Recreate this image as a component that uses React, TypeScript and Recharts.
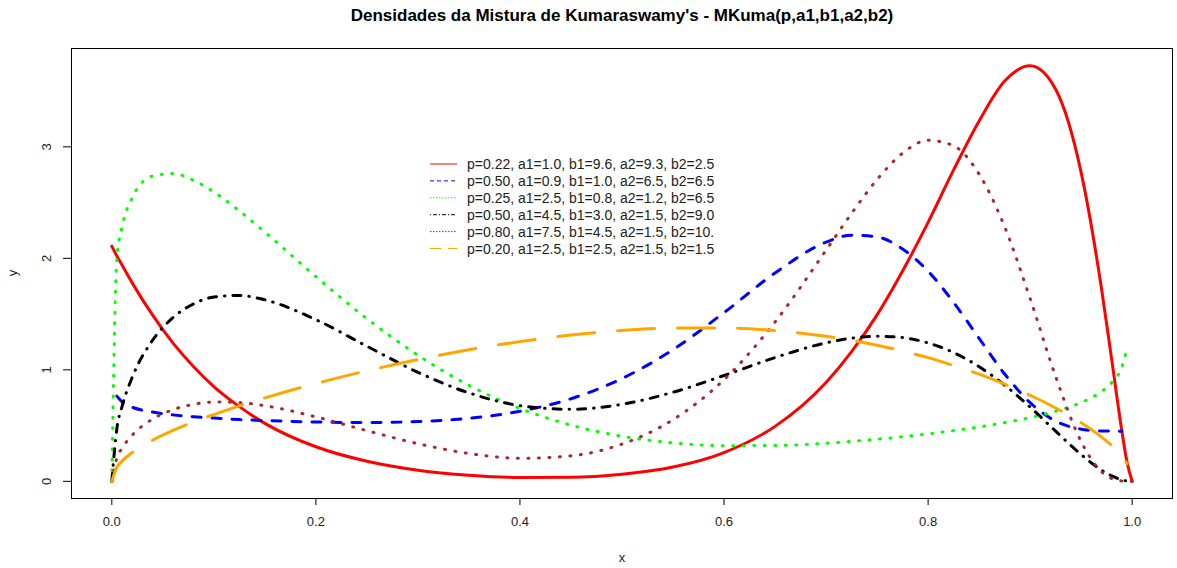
import { LineChart, Line, XAxis, YAxis, Legend } from 'recharts'

// x grid (finer near the ends where the curves bend fast)
const xs = [0, 0.005, 0.01, 0.02, 0.04, 0.06, 0.08, 0.1, 0.125, 0.15, 0.2, 0.25, 0.3, 0.35, 0.4, 0.45, 0.5, 0.55, 0.6, 0.65, 0.7, 0.725, 0.75, 0.775, 0.8, 0.825, 0.85, 0.875, 0.9, 0.925, 0.95, 0.97, 0.98, 0.99, 0.995, 1]

const red = [2.11, 2.02, 1.94, 1.78, 1.49, 1.24, 1.03, 0.85, 0.67, 0.52, 0.31, 0.18, 0.1, 0.055, 0.035, 0.036, 0.063, 0.128, 0.258, 0.493, 0.887, 1.164, 1.493, 1.887, 2.323, 2.793, 3.232, 3.59, 3.727, 3.516, 2.769, 1.725, 1.087, 0.444, 0.169, 0]
const blue = [null, 0.764, 0.713, 0.665, 0.621, 0.596, 0.579, 0.567, 0.554, 0.545, 0.532, 0.527, 0.536, 0.565, 0.628, 0.741, 0.922, 1.181, 1.513, 1.869, 2.145, 2.208, 2.192, 2.084, 1.884, 1.605, 1.282, 0.963, 0.705, 0.54, 0.468, 0.452, 0.451, 0.45, null, null]
const green = [0, 2.01, 2.28, 2.545, 2.738, 2.76, 2.7, 2.595, 2.426, 2.235, 1.836, 1.459, 1.131, 0.861, 0.654, 0.504, 0.404, 0.345, 0.32, 0.321, 0.342, 0.358, 0.378, 0.4, 0.426, 0.455, 0.488, 0.527, 0.572, 0.629, 0.707, 0.806, 0.886, 1.031, 1.193, null]
const black = [0, 0.476, 0.67, 0.933, 1.266, 1.469, 1.591, 1.653, 1.667, 1.628, 1.45, 1.212, 0.978, 0.793, 0.679, 0.646, 0.691, 0.799, 0.949, 1.11, 1.242, 1.284, 1.301, 1.289, 1.241, 1.155, 1.028, 0.863, 0.666, 0.45, 0.24, 0.1, 0.048, 0.013, 0.003, 0]
const brown = [0, 0.212, 0.297, 0.414, 0.558, 0.643, 0.691, 0.711, 0.706, 0.678, 0.578, 0.454, 0.338, 0.25, 0.207, 0.229, 0.334, 0.553, 0.912, 1.429, 2.073, 2.403, 2.707, 2.943, 3.059, 3.009, 2.755, 2.283, 1.639, 0.94, 0.356, 0.085, 0.025, 0.003, 0, 0]
const orange = [0, 0.127, 0.181, 0.258, 0.369, 0.456, 0.532, 0.599, 0.677, 0.748, 0.877, 0.991, 1.092, 1.18, 1.253, 1.312, 1.353, 1.376, 1.376, 1.352, 1.301, 1.265, 1.221, 1.169, 1.109, 1.039, 0.961, 0.872, 0.772, 0.658, 0.526, 0.398, 0.321, 0.224, 0.157, null]

const labels = [
  'p=0.22, a1=1.0, b1=9.6, a2=9.3, b2=2.5',
  'p=0.50, a1=0.9, b1=1.0, a2=6.5, b2=6.5',
  'p=0.25, a1=2.5, b1=0.8, a2=1.2, b2=6.5',
  'p=0.50, a1=4.5, b1=3.0, a2=1.5, b2=9.0',
  'p=0.80, a1=7.5, b1=4.5, a2=1.5, b2=10.',
  'p=0.20, a1=2.5, b1=2.5, a2=1.5, b2=1.5',
]

const xTicks = [0, 0.2, 0.4, 0.6, 0.8, 1]
const yTicks = [0, 1, 2, 3]

const FONT = '"Liberation Sans", Arial, sans-serif'

// plot line styles (round caps, like R's lend="round")
const series = [
  { key: 'red', values: red, color: '#ff0000', dash: undefined, legendDash: undefined },
  { key: 'blue', values: blue, color: '#0000ff', dash: '9 11', legendDash: '4 3' },
  { key: 'green', values: green, color: '#00ff00', dash: '1 9.5', legendDash: '1.5 1.5' },
  { key: 'black', values: black, color: '#000000', dash: '8 8 0.5 8', legendDash: '1 2 4 2' },
  { key: 'brown', values: brown, color: '#a52a2a', dash: '1 9.5', legendDash: '1.5 1.5' },
  { key: 'orange', values: orange, color: '#ffa500', dash: '37 23', legendDash: '11 7' },
]

const rows = xs.map((x, i) => {
  const r: any = { x }
  series.forEach((s) => {
    r[s.key] = s.values[i]
  })
  return r
})

const XTick = ({ x, payload }: any) => (
  <text x={x} y={526} textAnchor="middle" fontSize={13} fontFamily={FONT} fill="#222">
    {payload.value.toFixed(1)}
  </text>
)

const YTick = ({ y, payload }: any) => (
  <text
    x={51.5}
    y={y}
    textAnchor="middle"
    fontSize={13}
    fontFamily={FONT}
    fill="#222"
    transform={`rotate(-90, 51.5, ${y})`}
  >
    {payload.value}
  </text>
)

const LegendBox = () => (
  <svg width={330} height={105} style={{ display: 'block' }}>
    {series.map((s, i) => {
      const cy = 9 + i * 16.9
      return (
        <g key={s.key}>
          <line x1={5} x2={32} y1={cy} y2={cy} stroke={s.color} strokeWidth={1} strokeDasharray={s.legendDash} />
          <text x={42} y={cy + 5} fontSize={14} fontFamily={FONT} fill="#222">
            {labels[i]}
          </text>
        </g>
      )
    })}
  </svg>
)

export default function App() {
  return (
    <div style={{ position: 'absolute', left: 0, top: 0, width: 1177, height: 568, background: '#fff' }}>
      <LineChart width={1177} height={568} data={rows} margin={{ top: 48, right: 4, bottom: 0, left: 0 }}>
        <XAxis
          dataKey="x"
          type="number"
          domain={[-0.04, 1.04]}
          ticks={xTicks}
          allowDataOverflow
          height={70}
          axisLine={false}
          tickLine={{ stroke: '#000' }}
          tickSize={7}
          tick={<XTick />}
        />
        <YAxis
          type="number"
          domain={[-0.1495, 3.8865]}
          ticks={yTicks}
          allowDataOverflow
          width={71}
          axisLine={false}
          tickLine={{ stroke: '#000' }}
          tickSize={8}
          tick={<YTick />}
        />
        <Legend
          layout="vertical"
          align="center"
          verticalAlign="middle"
          content={<LegendBox />}
          wrapperStyle={{ left: 425, top: 155, width: 330, height: 105 }}
        />
        {series.map((s) => (
          <Line
            key={s.key}
            dataKey={s.key}
            type="monotone"
            stroke={s.color}
            strokeWidth={3}
            strokeDasharray={s.dash}
            strokeLinecap="round"
            dot={false}
            activeDot={false}
            legendType="none"
            isAnimationActive={false}
          />
        ))}
      </LineChart>
      <svg width={1177} height={568} style={{ position: 'absolute', left: 0, top: 0, pointerEvents: 'none' }}>
        <rect x={71.5} y={48.5} width={1101} height={450} fill="none" stroke="#000" strokeWidth={1} />
        <text x={622} y={21} textAnchor="middle" fontSize={17} fontWeight="bold" fontFamily={FONT} fill="#000">
          Densidades da Mistura de Kumaraswamy's - MKuma(p,a1,b1,a2,b2)
        </text>
        <text x={622} y={562} textAnchor="middle" fontSize={13} fontFamily={FONT} fill="#222">
          x
        </text>
        <text x={17} y={273} textAnchor="middle" fontSize={13} fontFamily={FONT} fill="#222" transform="rotate(-90, 17, 273)">
          y
        </text>
      </svg>
    </div>
  )
}
